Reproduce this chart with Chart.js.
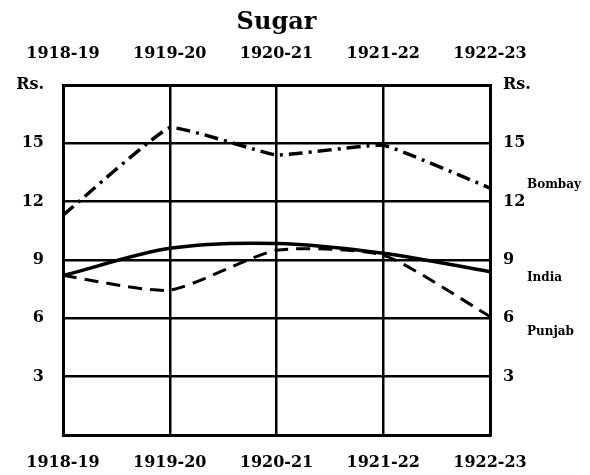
<!DOCTYPE html>
<html>
<head>
<meta charset="utf-8">
<script src="https://cdn.jsdelivr.net/npm/chart.js@4/dist/chart.umd.min.js"></script>
<style>
  body { margin: 0; background: #fff; }
</style>
</head>
<body>
<canvas id="sugar" width="590" height="475"></canvas>
<script>
// values (Rs.)
const years = ['1918-19', '1919-20', '1920-21', '1921-22', '1922-23'];
const bombay = [11.3, 15.8, 14.4, 14.9, 12.7];
const india = [8.2, 9.6, 9.85, 9.35, 8.4];
const punjab = [8.2, 7.45, 9.5, 9.25, 6.1];
const yMin = 0, yMax = 18, yStep = 3;
const unitLabel = 'Rs.';

const serif = 'DejaVu Serif';
const tickFont = { family: serif, size: 16, weight: 'bold' };

const tickText = (v) => v === yMin ? '' : v === yMax ? unitLabel : v;

// series names written just right of the frame
const labelOffsets = [-3, 6, 15];
const seriesNames = {
  id: 'seriesNames',
  afterDatasetsDraw(chart) {
    const ctx = chart.ctx;
    ctx.save();
    ctx.font = 'bold 12px "' + serif + '"';
    ctx.fillStyle = '#000';
    ctx.textAlign = 'left';
    ctx.textBaseline = 'middle';
    chart.data.datasets.forEach((ds, i) => {
      const pts = chart.getDatasetMeta(i).data;
      const last = pts[pts.length - 1];
      ctx.fillText(ds.label, chart.chartArea.right + 37, last.y + labelOffsets[i]);
    });
    ctx.restore();
  }
};

new Chart(document.getElementById('sugar'), {
  type: 'line',
  data: {
    labels: years,
    datasets: [
      {
        label: 'Bombay',
        data: bombay,
        borderColor: '#000',
        borderWidth: 3.5,
        borderDash: [14, 6, 3, 6],
        pointRadius: 0,
        tension: 0.1
      },
      {
        label: 'India',
        data: india,
        borderColor: '#000',
        borderWidth: 3.5,
        pointRadius: 0,
        tension: 0.3
      },
      {
        label: 'Punjab',
        data: punjab,
        borderColor: '#000',
        borderWidth: 3,
        borderDash: [14, 8],
        pointRadius: 0,
        tension: 0.2
      }
    ]
  },
  options: {
    responsive: false,
    animation: false,
    layout: { padding: 0 },
    plugins: {
      legend: { display: false },
      tooltip: { enabled: false },
      title: {
        display: true,
        text: 'Sugar',
        color: '#000',
        fullSize: false,
        font: { family: serif, size: 24, weight: 'bold', lineHeight: 1.2 },
        padding: { top: 8, bottom: 0 }
      }
    },
    scales: {
      x: {
        position: 'bottom',
        grid: { color: '#000', lineWidth: 2.5, drawTicks: false },
        border: { color: '#000', width: 3 },
        ticks: { color: '#000', font: tickFont, padding: 18, maxRotation: 0 },
        afterFit(s) { s.height = 40; }
      },
      x2: {
        type: 'category',
        position: 'top',
        labels: years,
        grid: { drawOnChartArea: false, drawTicks: false },
        border: { color: '#000', width: 3 },
        ticks: { color: '#000', font: tickFont, padding: 22, maxRotation: 0 },
        afterFit(s) { s.height = 48.2; }
      },
      y: {
        position: 'left',
        min: yMin,
        max: yMax,
        grid: { color: '#000', lineWidth: 2.5, drawTicks: false },
        border: { color: '#000', width: 3 },
        ticks: { stepSize: yStep, color: '#000', font: tickFont, padding: 19, callback: tickText },
        afterFit(s) { s.width = 63; }
      },
      y2: {
        position: 'right',
        min: yMin,
        max: yMax,
        grid: { drawOnChartArea: false, drawTicks: false },
        border: { color: '#000', width: 3 },
        ticks: { stepSize: yStep, color: '#000', font: tickFont, padding: 13, callback: tickText },
        afterFit(s) { s.width = 100; }
      }
    }
  },
  plugins: [seriesNames]
});
</script>
</body>
</html>
